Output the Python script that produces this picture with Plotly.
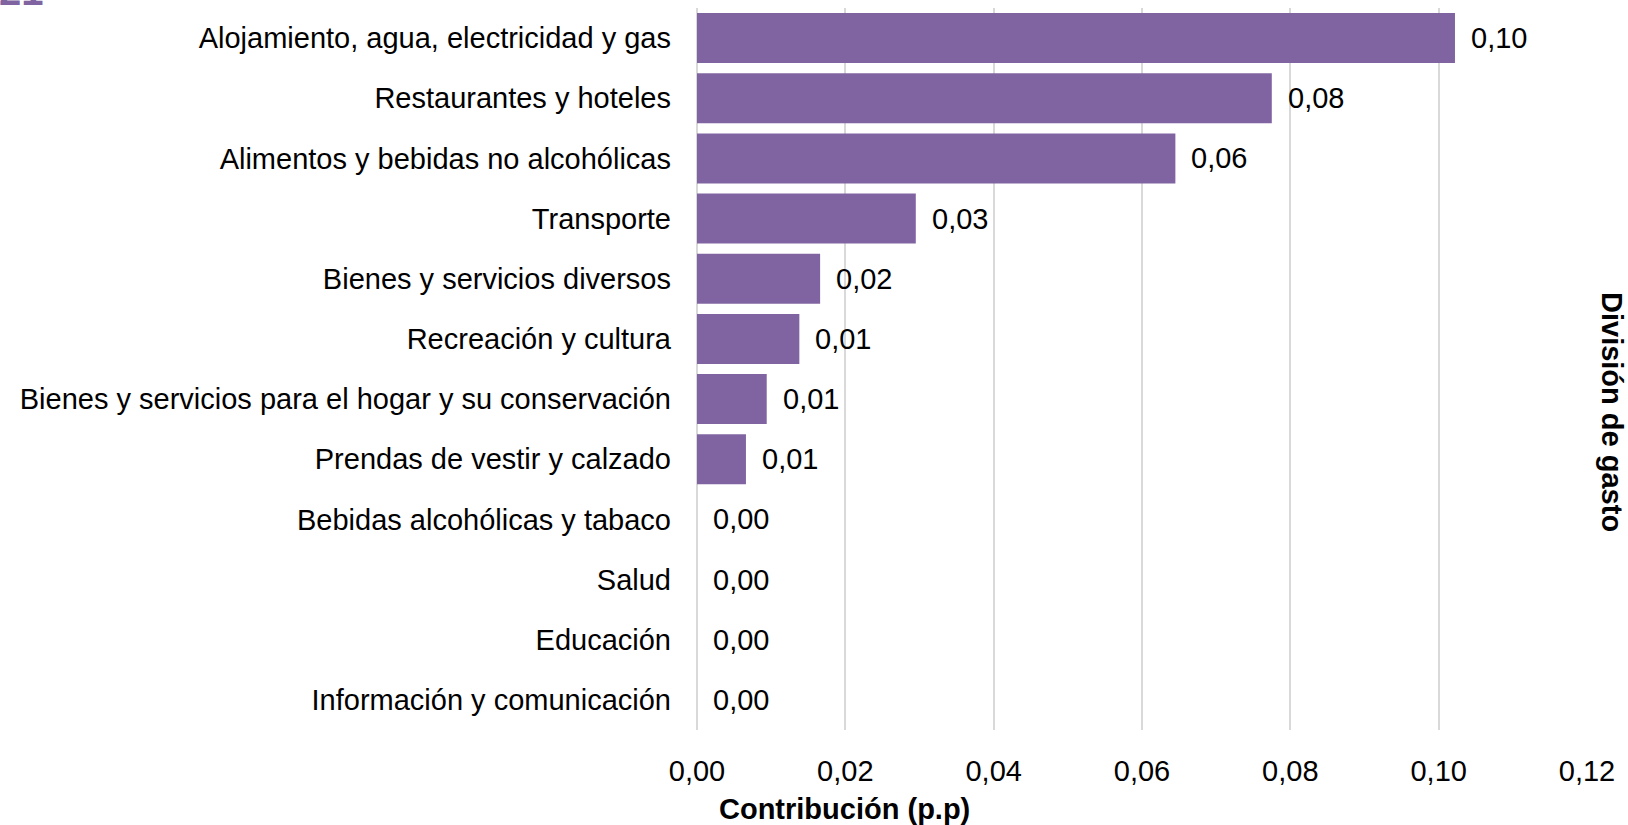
import plotly.graph_objects as go

categories = [
    "Alojamiento, agua, electricidad y gas",
    "Restaurantes y hoteles",
    "Alimentos y bebidas no alcohólicas",
    "Transporte",
    "Bienes y servicios diversos",
    "Recreación y cultura",
    "Bienes y servicios para el hogar y su conservación",
    "Prendas de vestir y calzado",
    "Bebidas alcohólicas y tabaco",
    "Salud",
    "Educación",
    "Información y comunicación",
]
values = [0.1022, 0.0775, 0.0645, 0.0295, 0.0166, 0.0138, 0.0094, 0.0066, 0.0, 0.0, 0.0, 0.0]
x_ticks = [0.0, 0.02, 0.04, 0.06, 0.08, 0.10, 0.12]

FONT = "Liberation Sans, Arial, sans-serif"
PURPLE = "#8064A2"
FS = 29

fig = go.Figure()
fig.add_trace(go.Bar(
    x=values, y=categories, orientation="h",
    marker=dict(color=PURPLE, line=dict(width=0)),
    hoverinfo="x+y",
))

annotations = []
for c, v in zip(categories, values):
    annotations.append(dict(
        x=v, y=c, xref="x", yref="y",
        text=f"{v:.2f}".replace(".", ","),
        showarrow=False, xanchor="left", yanchor="middle",
        xshift=14, font=dict(family=FONT, size=FS, color="#000000"),
    ))

# x-axis title
annotations.append(dict(
    x=0.166, y=-0.1094, xref="paper", yref="paper",
    text="<b>Contribución (p.p)</b>",
    showarrow=False, xanchor="center", yanchor="middle",
    font=dict(family=FONT, size=FS, color="#000000"),
))

# right-side title
annotations.append(dict(
    x=1.0, y=0.5, xref="paper", yref="paper",
    text="<b>División de gasto</b>", textangle=90,
    showarrow=False, xanchor="center", yanchor="middle",
    xshift=25, yshift=-43,
    font=dict(family=FONT, size=FS, color="#000000"),
))

# cropped heading remnant at top-left
annotations.append(dict(
    x=0, y=1, xref="paper", yref="paper",
    text="<b>21</b>", showarrow=False,
    xanchor="left", yanchor="bottom",
    xshift=-700, yshift=-7,
    font=dict(family=FONT, size=40, color=PURPLE),
))

fig.update_layout(
    width=1628, height=825,
    margin=dict(l=697, r=41, t=8, b=95),
    paper_bgcolor="white", plot_bgcolor="white",
    separators=",.",
    bargap=0.17,
    showlegend=False,
    font=dict(family=FONT, size=FS, color="#000000"),
    annotations=annotations,
    xaxis=dict(
        range=[0, 0.12], tickvals=x_ticks, tickformat=".2f",
        showgrid=True, gridcolor="#D9D9D9", gridwidth=1.5,
        zeroline=True, zerolinecolor="#D9D9D9", zerolinewidth=1.5,
        showline=False, ticks="", automargin=False,
        ticklabelstandoff=21,
        tickfont=dict(family=FONT, size=FS, color="#000000"),
    ),
    yaxis=dict(
        categoryorder="array", categoryarray=categories,
        autorange="reversed", automargin=False,
        showgrid=False, zeroline=False, showline=False, ticks="",
        ticklabelstandoff=25,
        tickfont=dict(family=FONT, size=FS, color="#000000"),
    ),
)

fig.write_html("out.html", config={"displayModeBar": False},
               post_script="document.body.style.margin='0px';")
